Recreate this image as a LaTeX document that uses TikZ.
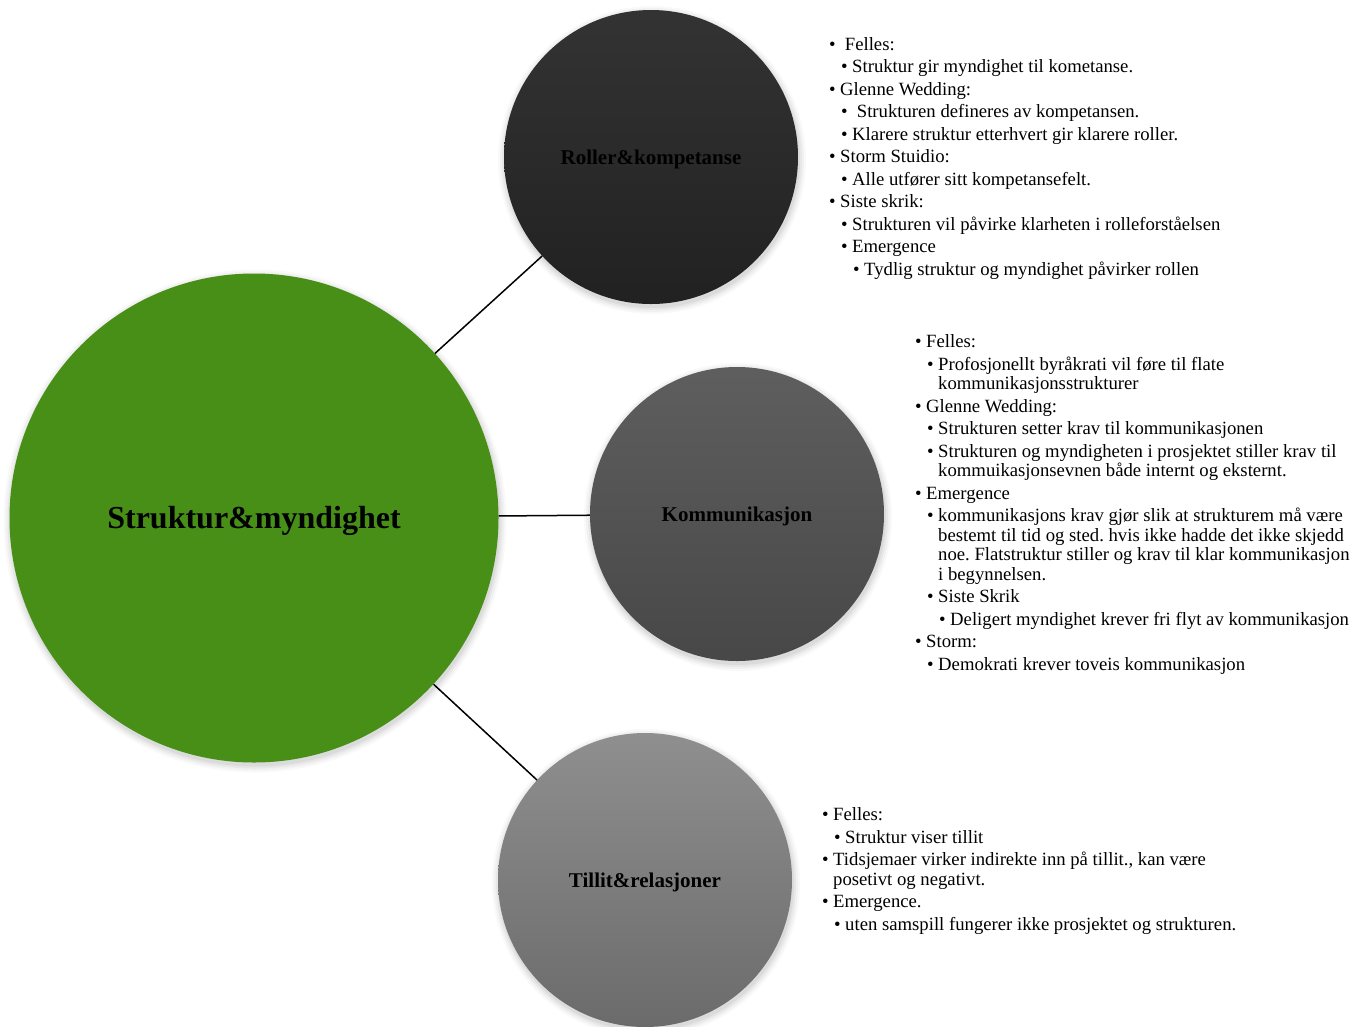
\documentclass[tikz,border=0pt]{standalone}
\usepackage{fontspec}
\setmainfont{Liberation Serif}
\frenchspacing

% one bulleted entry: #1 = indent of the bullet (pt), #2 = text (use \\ for a wrapped line)
\newcommand\itm[2]{\par\hangindent=\dimexpr#1pt+11pt\relax\hangafter=1
  \noindent\hspace*{#1pt}\makebox[11pt][l]{\textbullet}#2}
% a stack of entries whose node baseline is the first line's baseline
\newcommand\notelist[1]{\vtop{\hsize=560pt\parindent=0pt\parskip=3pt
  \rightskip=0pt plus 1fil\relax #1\par}}
% a label lowered inside its unchanged box
\newcommand\lowered[2]{\raisebox{-#1pt}[\height][\depth]{#2}}
% faint, soft shadow under a circle: centre x, centre y, radius
\newcommand\softshadow[3]{%
  \foreach \k/\o in {7/0.025,5/0.03,3/0.04,1/0.05}
    \fill[black,opacity=\o] (#1+1,#2+3) circle[radius=#3pt+\k pt];}

\begin{document}
\begin{tikzpicture}[x=1pt,y=-1pt,
  topic/.style={circle,inner sep=0pt,minimum size=294pt,
    font=\bfseries\fontsize{21}{24}\selectfont,text=black},
  hub/.style={circle,inner sep=0pt,minimum size=489pt,fill=hubgreen,
    font=\bfseries\fontsize{32}{36}\selectfont,text=black},
  notes/.style={anchor=base west,inner sep=0pt,text=black,
    font=\fontsize{18.7}{19.5}\selectfont},
  conn/.style={draw=black,line width=1.5pt}]

\definecolor{hubgreen}{HTML}{488F18}

\useasboundingbox (0,0) rectangle (1363,1026);
\fill[white] (0,0) rectangle (1363,1026);

% shadows
\softshadow{254}{518}{244.5}
\softshadow{651}{157}{147}
\softshadow{737}{514}{147}
\softshadow{645}{880}{147}

% circles
\node[hub] (hub) at (254,518) {\lowered{3}{Struktur\&myndighet}};
\node[topic,top color=black!80,bottom color=black!87] (roller) at (651,157) {\lowered{2}{Roller\&kompetanse}};
\node[topic,top color=black!63,bottom color=black!72] (komm) at (737,514) {\lowered{2}{Kommunikasjon}};
\node[topic,top color=black!44,bottom color=black!58] (tillit) at (645,880) {\lowered{2}{Tillit\&relasjoner}};

% connectors
\draw[conn] (hub) -- (roller);
\draw[conn] (hub) -- (komm);
\draw[conn] (hub) -- (tillit);

% notes beside each topic
\node[notes] (rollernotes) at (829,50.3) {\notelist{%
  \itm{0}{ Felles:}
  \itm{12}{Struktur gir myndighet til kometanse.}
  \itm{0}{Glenne Wedding:}
  \itm{12}{ Strukturen defineres av kompetansen.}
  \itm{12}{Klarere struktur etterhvert gir klarere roller.}
  \itm{0}{Storm Stuidio:}
  \itm{12}{Alle utfører sitt kompetansefelt.}
  \itm{0}{Siste skrik:}
  \itm{12}{Strukturen vil påvirke klarheten i rolleforståelsen}
  \itm{12}{Emergence}
  \itm{24}{Tydlig struktur og myndighet påvirker rollen}}};

\node[notes] (kommnotes) at (915,347.7) {\notelist{%
  \itm{0}{Felles:}
  \itm{12}{Profosjonellt byråkrati vil føre til flate\\kommunikasjonsstrukturer}
  \itm{0}{Glenne Wedding:}
  \itm{12}{Strukturen setter krav til kommunikasjonen}
  \itm{12}{Strukturen og myndigheten i prosjektet stiller krav til\\kommuikasjonsevnen både internt og eksternt.}
  \itm{0}{Emergence}
  \itm{12}{kommunikasjons krav gjør slik at strukturem må være\\bestemt til tid og sted. hvis ikke hadde det ikke skjedd\\noe. Flatstruktur stiller og krav til klar kommunikasjon\\i begynnelsen.}
  \itm{12}{Siste Skrik}
  \itm{24}{Deligert myndighet krever fri flyt av kommunikasjon}
  \itm{0}{Storm:}
  \itm{12}{Demokrati krever toveis kommunikasjon}}};

\node[notes] (tillitnotes) at (822,820.5) {\notelist{%
  \itm{0}{Felles:}
  \itm{12}{Struktur viser tillit}
  \itm{0}{Tidsjemaer virker indirekte inn på tillit., kan være\\posetivt og negativt.}
  \itm{0}{Emergence.}
  \itm{12}{uten samspill fungerer ikke prosjektet og strukturen.}}};

\end{tikzpicture}
\end{document}
